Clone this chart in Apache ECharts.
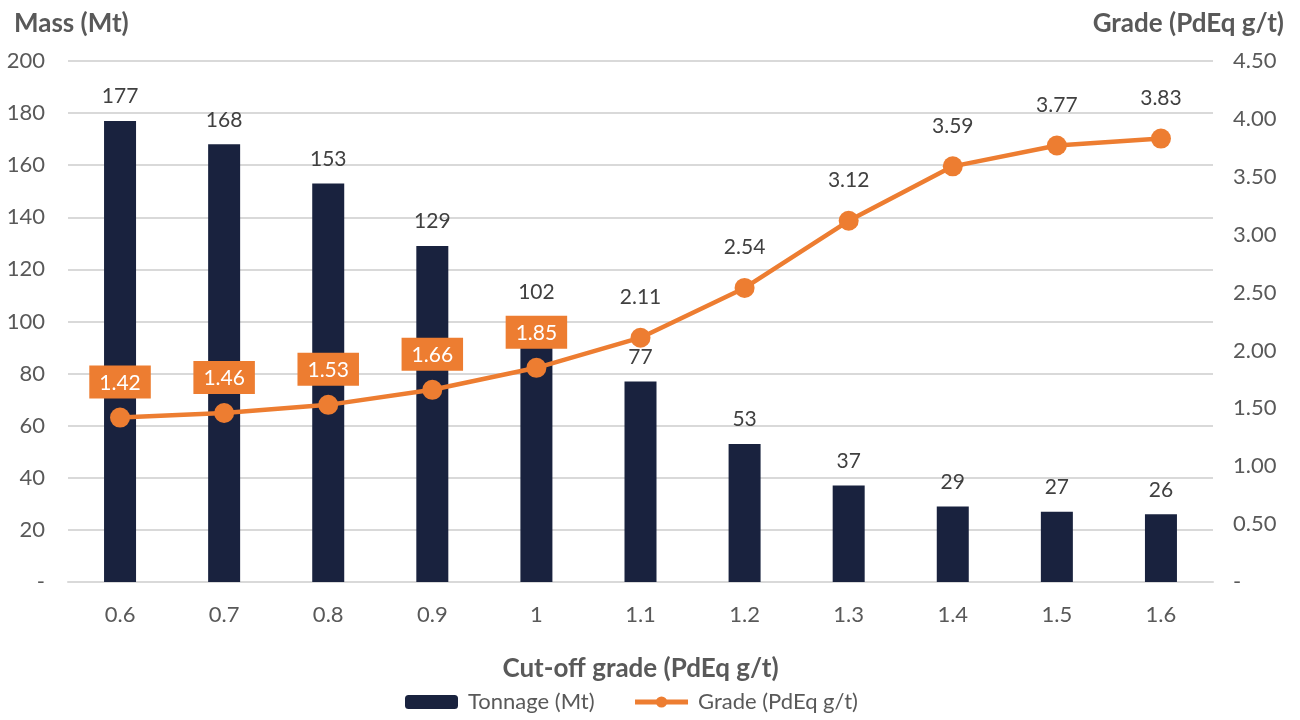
<!DOCTYPE html>
<html>
<head>
<meta charset="utf-8">
<script src="https://cdn.jsdelivr.net/npm/echarts@6/dist/echarts.min.js"></script>
<style>
  html, body { margin: 0; padding: 0; background: #fff; }
  #main { width: 1300px; height: 720px; }
</style>
</head>
<body>
<div id="main"></div>
<script>
// data
var cutoffs = ['0.6', '0.7', '0.8', '0.9', '1', '1.1', '1.2', '1.3', '1.4', '1.5', '1.6'];
var tonnage = [177, 168, 153, 129, 102, 77, 53, 37, 29, 27, 26];
var grade = [1.42, 1.46, 1.53, 1.66, 1.85, 2.11, 2.54, 3.12, 3.59, 3.77, 3.83];
var boxedLabels = 5; // first labels drawn on orange boxes

var FONT = 'Lato';
var GREY = '#595959';
var NAVY = '#19223e';
var ORANGE = '#ed7d31';

var gradeData = grade.map(function (v, i) {
    if (i < boxedLabels) {
        return {
            value: v,
            label: {
                color: '#fff',
                backgroundColor: ORANGE,
                padding: [7, 10, 5, 10],
                distance: 9
            }
        };
    }
    return v;
});

var myChart = echarts.init(document.getElementById('main'));
var option = {
    textStyle: { fontFamily: FONT },
    animation: false,
    title: [
        { text: 'Mass (Mt)', left: 9, top: 6,
          textStyle: { fontFamily: FONT, fontSize: 26, fontWeight: 'bold', color: GREY } },
        { text: 'Grade (PdEq g/t)', right: 11, top: 6,
          textStyle: { fontFamily: FONT, fontSize: 26, fontWeight: 'bold', color: GREY } }
    ],
    grid: { left: 68, right: 87, top: 61, bottom: 138, containLabel: false },
    legend: {
        bottom: 2,
        left: 400,
        itemGap: 38,
        itemWidth: 53,
        itemHeight: 14,
        textStyle: { fontFamily: FONT, fontSize: 22, color: GREY, padding: [0, 0, 0, 5] },
        data: [
            'Tonnage (Mt)',
            { name: 'Grade (PdEq g/t)', lineStyle: { width: 5 } }
        ]
    },
    xAxis: {
        type: 'category',
        data: cutoffs,
        name: 'Cut-off grade (PdEq g/t)',
        nameLocation: 'middle',
        nameGap: 74,
        nameTextStyle: { fontFamily: FONT, fontSize: 26, fontWeight: 'bold', color: GREY },
        axisTick: { show: false },
        axisLine: { lineStyle: { color: '#d9d9d9', width: 2 } },
        axisLabel: { fontSize: 22, color: GREY, margin: 22 }
    },
    yAxis: [
        {
            type: 'value', min: 0, max: 200, interval: 20,
            axisLine: { show: false }, axisTick: { show: false },
            splitLine: { lineStyle: { color: '#d9d9d9', width: 2 } },
            axisLabel: {
                fontSize: 22, color: GREY, margin: 23,
                formatter: function (v) { return v === 0 ? '-' : v; }
            }
        },
        {
            type: 'value', min: 0, max: 4.5, interval: 0.5,
            axisLine: { show: false }, axisTick: { show: false },
            splitLine: { show: false },
            axisLabel: {
                fontSize: 22, color: GREY, margin: 20,
                formatter: function (v) { return v === 0 ? '-' : v.toFixed(2); }
            }
        }
    ],
    series: [
        {
            name: 'Tonnage (Mt)',
            type: 'bar',
            data: tonnage,
            barWidth: 32,
            itemStyle: { color: NAVY },
            label: { show: true, position: 'top', distance: 14, fontSize: 21, color: '#404040' }
        },
        {
            name: 'Grade (PdEq g/t)',
            type: 'line',
            yAxisIndex: 1,
            data: gradeData,
            symbol: 'circle',
            symbolSize: 20,
            lineStyle: { color: ORANGE, width: 4.5 },
            itemStyle: { color: ORANGE },
            label: {
                show: true, position: 'top', distance: 20, fontSize: 21, color: '#404040',
                formatter: function (p) { return p.value.toFixed(2); }
            }
        }
    ]
};
myChart.setOption(option);
</script>
</body>
</html>
